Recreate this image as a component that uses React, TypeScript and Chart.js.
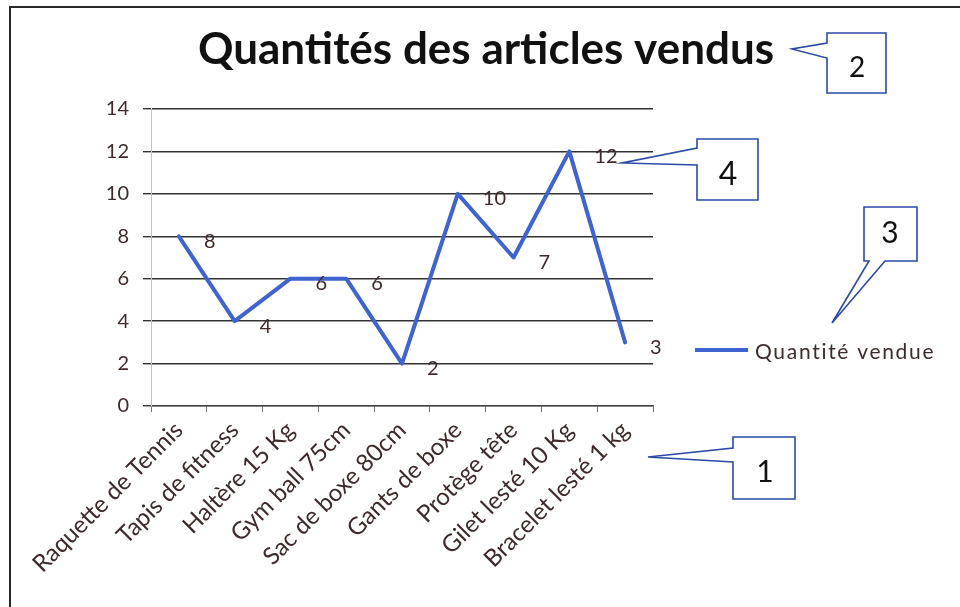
import { useEffect, useRef } from "react";
import { Chart, registerables } from "chart.js";

Chart.register(...registerables);

const TITLE = "Quantités des articles vendus";
const SERIES_NAME = "Quantité vendue";
const CATEGORIES = [
  "Raquette de Tennis",
  "Tapis de fitness",
  "Haltère 15 Kg",
  "Gym ball 75cm",
  "Sac de boxe 80cm",
  "Gants de boxe",
  "Protège tête",
  "Gilet lesté 10 Kg",
  "Bracelet lesté 1 kg",
];
const QUANTITIES = [8, 4, 6, 6, 2, 10, 7, 12, 3];
const Y_MIN = 0;
const Y_MAX = 14;
const Y_STEP = 2;
const CALLOUT_NUMBERS = ["1", "2", "3", "4"];

const FONT = "Lato, 'Open Sans', 'DejaVu Sans', sans-serif";
const LINE_BLUE = "#3f63cf";
const TEXT_DARK = "#3e2a2a";
const CALLOUT_BLUE = "#2b4aa6";

function drawCallout(
  ctx: CanvasRenderingContext2D,
  pts: [number, number][],
  label: string,
  cx: number,
  cy: number,
  size: number
) {
  ctx.save();
  ctx.fillStyle = "#ffffff";
  ctx.strokeStyle = CALLOUT_BLUE;
  ctx.lineWidth = 1.6;
  ctx.beginPath();
  pts.forEach(([x, y], i) => (i === 0 ? ctx.moveTo(x, y) : ctx.lineTo(x, y)));
  ctx.closePath();
  ctx.fill();
  ctx.stroke();
  ctx.fillStyle = "#111";
  ctx.font = `${size}px ${FONT}`;
  ctx.textAlign = "center";
  ctx.textBaseline = "middle";
  ctx.fillText(label, cx, cy);
  ctx.restore();
}

const decorPlugin = {
  id: "decor",
  beforeDraw(chart: any) {
    const ctx = chart.ctx as CanvasRenderingContext2D;
    ctx.save();
    ctx.fillStyle = "#ffffff";
    ctx.fillRect(0, 0, chart.width, chart.height);
    ctx.strokeStyle = "#2a2a2a";
    ctx.lineWidth = 2;
    ctx.beginPath();
    ctx.moveTo(10, chart.height);
    ctx.lineTo(10, 7);
    ctx.lineTo(chart.width, 7);
    ctx.stroke();
    ctx.restore();
  },
  afterDraw(chart: any) {
    const ctx = chart.ctx as CanvasRenderingContext2D;
    const area = chart.chartArea;
    ctx.save();
    // title
    ctx.fillStyle = "#111";
    ctx.font = `bold 44px ${FONT}`;
    ctx.textAlign = "center";
    ctx.textBaseline = "middle";
    ctx.fillText(TITLE, 486, 50);

    // data labels
    const meta = chart.getDatasetMeta(0);
    ctx.font = `20px ${FONT}`;
    ctx.fillStyle = TEXT_DARK;
    ctx.textAlign = "left";
    meta.data.forEach((pt: any, i: number) => {
      ctx.fillText(String(QUANTITIES[i]), pt.x + 25, pt.y + 5);
    });

    // legend
    const ly = 350;
    const lx = area.right + 42;
    ctx.strokeStyle = LINE_BLUE;
    ctx.lineWidth = 4;
    ctx.beginPath();
    ctx.moveTo(lx, ly);
    ctx.lineTo(lx + 53, ly);
    ctx.stroke();
    ctx.font = `21px ${FONT}`;
    ctx.fillStyle = TEXT_DARK;
    (ctx as any).letterSpacing = "1.7px";
    ctx.fillText(SERIES_NAME, lx + 60, ly + 2);
    (ctx as any).letterSpacing = "0px";
    ctx.restore();

    // callouts
    drawCallout(
      ctx,
      [[733, 437], [795, 437], [795, 499], [733, 499], [733, 462], [648, 457], [733, 448]],
      CALLOUT_NUMBERS[0], 765, 472, 30
    );
    drawCallout(
      ctx,
      [[827, 33], [886, 33], [886, 93], [827, 93], [827, 58], [792, 49], [827, 43]],
      CALLOUT_NUMBERS[1], 857, 68, 28
    );
    drawCallout(
      ctx,
      [[864, 207], [917, 207], [917, 261], [885, 261], [832, 323], [869, 261], [864, 261]],
      CALLOUT_NUMBERS[2], 890, 233, 30
    );
    drawCallout(
      ctx,
      [[697, 139], [758, 139], [758, 200], [697, 200], [697, 165], [622, 163], [697, 148]],
      CALLOUT_NUMBERS[3], 728, 175, 32
    );
  },
};

export default function App() {
  const canvasRef = useRef<HTMLCanvasElement | null>(null);

  useEffect(() => {
    const canvas = canvasRef.current;
    if (!canvas) return;
    const chart = new Chart(canvas, {
      type: "line",
      data: {
        labels: CATEGORIES,
        datasets: [
          {
            label: SERIES_NAME,
            data: QUANTITIES,
            borderColor: LINE_BLUE,
            backgroundColor: LINE_BLUE,
            borderWidth: 4,
            pointRadius: 0,
            pointHoverRadius: 0,
            tension: 0,
            borderJoinStyle: "round",
            borderCapStyle: "round",
          },
        ],
      },
      options: {
        responsive: false,
        animation: false,
        events: [],
        layout: { padding: { left: 0, top: 109, right: 307, bottom: 0 } },
        plugins: {
          legend: { display: false },
          title: { display: false },
          tooltip: { enabled: false },
        },
        scales: {
          x: {
            type: "category",
            offset: true,
            afterFit: (scale: any) => {
              scale.height = 201;
            },
            grid: {
              offset: true,
              drawOnChartArea: false,
              drawTicks: true,
              tickLength: 6,
              color: "#777",
            },
            border: { display: true, color: "#444", width: 1.3 },
            ticks: {
              autoSkip: false,
              maxRotation: 45,
              minRotation: 45,
              padding: 4,
              color: TEXT_DARK,
              font: { family: FONT, size: 24 },
            },
          },
          y: {
            min: Y_MIN,
            max: Y_MAX,
            afterFit: (scale: any) => {
              scale.width = 151;
            },
            grid: {
              color: "#333333",
              lineWidth: 1.4,
              drawTicks: true,
              tickLength: 8,
            },
            border: { display: true, color: "#c4c4c4", width: 1 },
            ticks: {
              stepSize: Y_STEP,
              padding: 14,
              color: TEXT_DARK,
              font: { family: FONT, size: 20 },
            },
          },
        },
      },
      plugins: [decorPlugin],
    });
    return () => chart.destroy();
  }, []);

  return (
    <div style={{ position: "fixed", left: 0, top: 0, width: 960, height: 607, background: "#fff" }}>
      <canvas ref={canvasRef} width={960} height={607} />
    </div>
  );
}
